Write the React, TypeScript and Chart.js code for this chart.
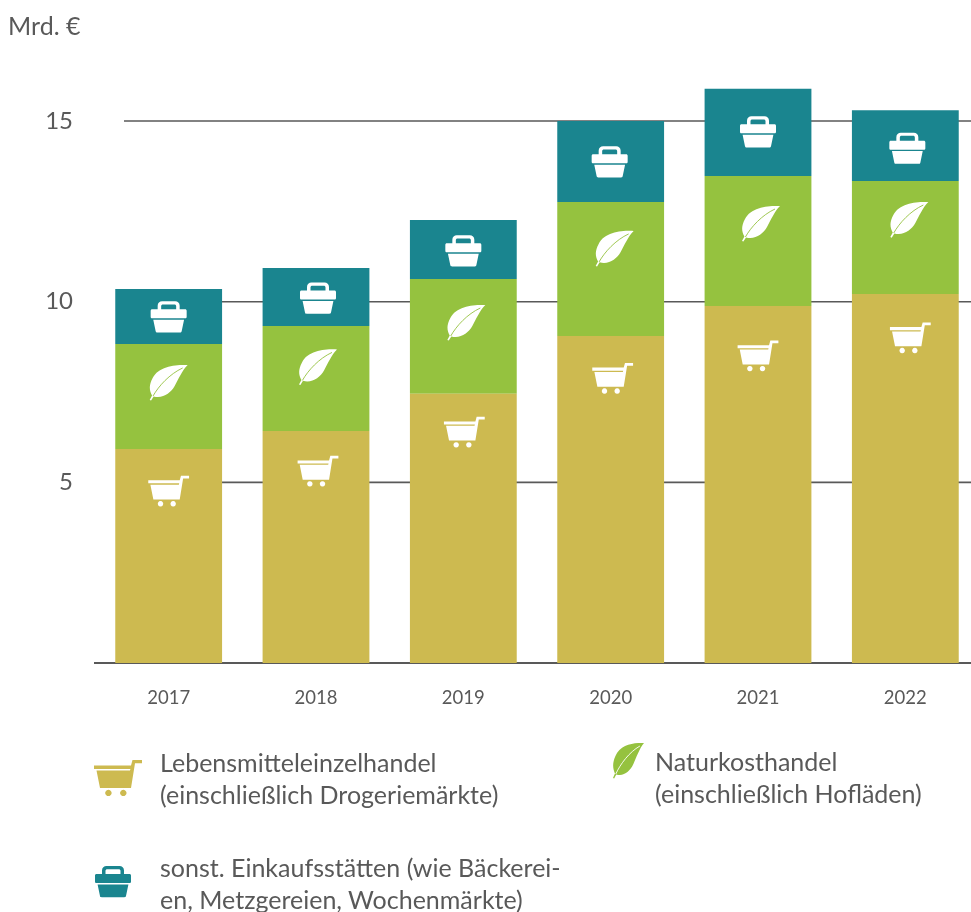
import React, { useEffect, useRef } from "react";
import { Chart, registerables } from "chart.js";

Chart.register(...registerables);

const years = ["2017", "2018", "2019", "2020", "2021", "2022"];
const lebensmittel = [5.92, 6.42, 7.45, 9.05, 9.88, 10.21];
const naturkost = [2.91, 2.91, 3.18, 3.71, 3.6, 3.13];
const sonstige = [1.52, 1.6, 1.63, 2.24, 2.41, 1.96];
const yTicks = [5, 10, 15];

const cartAt = [4.76, 5.31, 6.39, 7.88, 8.5, 9.0];
const leafAt = [7.75, 8.18, 9.41, 11.46, 12.15, 12.26];
const basketAt = [9.58, 10.1, 11.41, 13.87, 14.7, 14.25];
const cartDx = [0, 2, 1, 2, 0, 5];
const leafDx = [0, 2, 3, 4, 3, 4];
const basketDx = [0, 2, 0, -1, 0, 2];

const GOLD = "#CDBA50";
const GREEN = "#95C23F";
const TEAL = "#1A858F";
const TEXT = "#595959";
const FONT = "Lato, 'Open Sans', sans-serif";

const CART = "M38.5 0H48V3.2H41L37 28H6L2.5 10.6H36L36.4 9H0V5.4H37Z M14.4 29.8a3.2 3.2 0 1 0 0.01 0Z M29.3 29.8a3.2 3.2 0 1 0 0.01 0Z";
const BASKET = "M7 8V4.5C7 1.5 9 0 11.5 0H24.5C27 0 29 1.5 29 4.5V8H25.5V5C25.5 3.8 24.9 3.2 23.5 3.2H12.5C11.1 3.2 10.5 3.8 10.5 5V8Z M1.5 8H34.5C35.4 8 36 8.6 36 9.5V15.5C36 16.5 35.4 17 34.5 17H1.5C0.6 17 0 16.5 0 15.5V9.5C0 8.6 0.6 8 1.5 8Z M2.6 18.4H33.4L31 30C30.8 30.8 30.2 31.2 29.4 31.2H6.6C5.8 31.2 5.2 30.8 5 30Z";
const LEAF = "M38 0C27 -0.5 9 1 3 13C-0.8 20 -0.5 25 2.4 30.5L0 35L1.4 35.6L4 31.4C13 34 21 28 25 21C29 14 32 6 38 0Z";
const VEIN = "M3.4 31C9 21 20 9 33 3";

function icon(ctx: CanvasRenderingContext2D, path: string, cx: number, cy: number, w: number, h: number, scale: number, fill: string, vein?: string) {
  ctx.save();
  ctx.translate(cx - (w * scale) / 2, cy - (h * scale) / 2);
  ctx.scale(scale, scale);
  ctx.fillStyle = fill;
  ctx.fill(new Path2D(path));
  if (vein) {
    ctx.strokeStyle = vein;
    ctx.lineWidth = 0.9;
    ctx.stroke(new Path2D(VEIN));
  }
  ctx.restore();
}

const gridPlugin = {
  id: "startedGrid",
  beforeDatasetsDraw(chart: any) {
    const { ctx, scales, chartArea } = chart;
    ctx.save();
    ctx.strokeStyle = "#595959";
    ctx.lineWidth = 1.6;
    yTicks.forEach((t) => {
      const y = scales.y.getPixelForValue(t);
      ctx.beginPath();
      ctx.moveTo(124, y);
      ctx.lineTo(chartArea.right, y);
      ctx.stroke();
    });
    ctx.restore();
  },
};

const iconPlugin = {
  id: "barIcons",
  afterDatasetsDraw(chart: any) {
    const { ctx, scales } = chart;
    years.forEach((_, i) => {
      const x = scales.x.getPixelForValue(i);
      icon(ctx, CART, x + cartDx[i], scales.y.getPixelForValue(cartAt[i]), 48, 36, 0.85, "#fff");
      icon(ctx, LEAF, x + leafDx[i], scales.y.getPixelForValue(leafAt[i]), 38, 36, 1, "#fff", GREEN);
      icon(ctx, BASKET, x + basketDx[i], scales.y.getPixelForValue(basketAt[i]), 36, 31, 1, "#fff");
    });
  },
};

function Label({ x, y, children }: { x: number; y: number; children: React.ReactNode }) {
  return (
    <div style={{ position: "absolute", left: x, top: y, fontFamily: FONT, fontSize: 25, lineHeight: "32px", color: TEXT, whiteSpace: "nowrap" }}>
      {children}
    </div>
  );
}

function SvgIcon({ x, y, w, h, vw, vh, path, fill, vein }: { x: number; y: number; w: number; h: number; vw: number; vh: number; path: string; fill: string; vein?: boolean }) {
  return (
    <svg style={{ position: "absolute", left: x, top: y }} width={w} height={h} viewBox={`0 0 ${vw} ${vh}`} preserveAspectRatio="none">
      <path d={path} fill={fill} />
      {vein ? <path d={VEIN} fill="none" stroke="#fff" strokeWidth={1} /> : null}
    </svg>
  );
}

export default function App() {
  const ref = useRef<HTMLCanvasElement>(null);
  useEffect(() => {
    const chart = new Chart(ref.current!, {
      type: "bar",
      data: {
        labels: years,
        datasets: [
          { label: "Lebensmitteleinzelhandel (einschließlich Drogeriemärkte)", data: lebensmittel, backgroundColor: GOLD },
          { label: "Naturkosthandel (einschließlich Hofläden)", data: naturkost, backgroundColor: GREEN },
          { label: "sonst. Einkaufsstätten (wie Bäckereien, Metzgereien, Wochenmärkte)", data: sonstige, backgroundColor: TEAL },
        ],
      },
      options: {
        responsive: false,
        animation: false,
        layout: { padding: { top: 84.9, right: 11, left: 0, bottom: 0 } },
        datasets: { bar: { categoryPercentage: 1, barPercentage: 0.725 } },
        plugins: { legend: { display: false }, tooltip: { enabled: false } },
        scales: {
          x: {
            stacked: true,
            grid: { display: false },
            border: { display: true, color: "#595959", width: 2 },
            ticks: { color: TEXT, font: { family: FONT, size: 18.5 }, padding: 16, maxRotation: 0 },
            afterFit(scale: any) { scale.height = 249; },
          },
          y: {
            stacked: true,
            min: 0,
            max: 16,
            grid: { display: false },
            border: { display: false },
            afterBuildTicks(scale: any) { scale.ticks = yTicks.map((value) => ({ value })); },
            ticks: { color: TEXT, font: { family: FONT, size: 24 }, padding: 14 },
            afterFit(scale: any) { scale.width = 95; },
          },
        },
      },
      plugins: [gridPlugin, iconPlugin],
    } as any);
    return () => chart.destroy();
  }, []);
  return (
    <div style={{ position: "absolute", left: 0, top: 0, width: 971, height: 912, overflow: "hidden", background: "#fff" }}>
      <canvas ref={ref} width={990} height={912} style={{ display: "block", width: 990, height: 912 }} />
      <Label x={8} y={9}>Mrd. €</Label>
      <SvgIcon x={94} y={760} w={48} h={36} vw={48} vh={36} path={CART} fill={GOLD} />
      <Label x={160} y={746}>Lebensmitteleinzelhandel<br />(einschließlich Drogeriemärkte)</Label>
      <SvgIcon x={613} y={743} w={31} h={36} vw={38} vh={36} path={LEAF} fill={GREEN} vein />
      <Label x={655} y={745}>Naturkosthandel<br />(einschließlich Hofläden)</Label>
      <SvgIcon x={95} y={866} w={36} h={32} vw={36} vh={32} path={BASKET} fill={TEAL} />
      <Label x={160} y={851}>sonst. Einkaufsstätten (wie Bäckerei-<br />en, Metzgereien, Wochenmärkte)</Label>
    </div>
  );
}
